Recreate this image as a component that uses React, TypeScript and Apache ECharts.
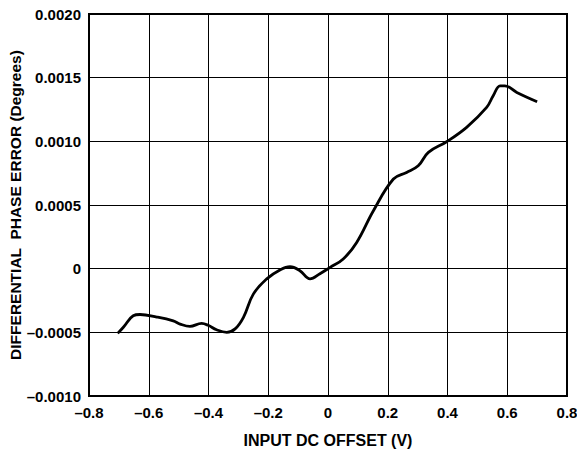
import React, { useEffect, useRef } from "react";
import * as echarts from "echarts";

const xValues = [
  -0.704, -0.685, -0.652, -0.629, -0.573, -0.518, -0.495, -0.462, -0.423, -0.401,
  -0.373, -0.339, -0.311, -0.283, -0.25, -0.205, -0.161, -0.127, -0.094, -0.06,
  -0.027, 0.007, 0.051, 0.096, 0.152, 0.219, 0.263, 0.302, 0.336, 0.397,
  0.464, 0.531, 0.553, 0.576, 0.592, 0.632, 0.7,
];
const yValues = [
  -0.000508, -0.00046, -0.00037, -0.00036, -0.00038, -0.00041, -0.000435, -0.000453, -0.00043, -0.000445,
  -0.00048, -0.0005, -0.000473, -0.000382, -0.0002, -0.00008, -0.00001, 0.000016, -0.000016, -0.00008,
  -0.00004, 0.00001, 0.000076, 0.000206, 0.000455, 0.000704, 0.000756, 0.000808, 0.000913, 0.000997,
  0.00111, 0.001266, 0.001358, 0.001436, 0.001436, 0.001384, 0.001311,
];
const xTickLabels: Record<string, string> = {
  "-0.8": "–0.8", "-0.6": "–0.6", "-0.4": "–0.4", "-0.2": "–0.2",
  "0": "0", "0.2": "0.2", "0.4": "0.4", "0.6": "0.6", "0.8": "0.8",
};
const yTickLabels: Record<string, string> = {
  "-0.001": "–0.0010", "-0.0005": "–0.0005", "0": "0",
  "0.0005": "0.0005", "0.001": "0.0010", "0.0015": "0.0015", "0.002": "0.0020",
};

export default function App() {
  const ref = useRef<HTMLDivElement>(null);
  useEffect(() => {
    if (!ref.current) return;
    const chart = echarts.init(ref.current, null, { renderer: "svg" });
    const font = "Liberation Sans, Arial, sans-serif";
    chart.setOption({
      animation: false,
      backgroundColor: "#ffffff",
      grid: { left: 89, right: 10, top: 14, bottom: 58, containLabel: false, outerBoundsMode: "none" },
      xAxis: {
        type: "value",
        min: -0.8,
        max: 0.8,
        interval: 0.2,
        name: "INPUT DC OFFSET (V)",
        nameLocation: "middle",
        nameGap: 36,
        nameMoveOverlap: false,
        nameTextStyle: { color: "#000", fontFamily: font, fontWeight: "bold", fontSize: 16 },
        axisLine: { show: true, onZero: false, lineStyle: { color: "#000", width: 2 } },
        axisTick: { show: false },
        axisLabel: {
          color: "#000",
          fontFamily: font,
          fontWeight: "bold",
          fontSize: 15,
          margin: 9,
          formatter: (v: number) => xTickLabels[String(Math.round(v * 10) / 10)] ?? String(v),
        },
        splitLine: { show: true, lineStyle: { color: "#000", width: 1 } },
      },
      yAxis: {
        type: "value",
        min: -0.001,
        max: 0.002,
        interval: 0.0005,
        name: "DIFFERENTIAL  PHASE ERROR (Degrees)",
        nameLocation: "middle",
        nameGap: 66,
        nameMoveOverlap: false,
        nameTextStyle: { color: "#000", fontFamily: font, fontWeight: "bold", fontSize: 15.5 },
        axisLine: { show: true, onZero: false, lineStyle: { color: "#000", width: 2 } },
        axisTick: { show: false },
        axisLabel: {
          color: "#000",
          fontFamily: font,
          fontWeight: "bold",
          fontSize: 15,
          margin: 8,
          formatter: (v: number) => yTickLabels[String(Math.round(v * 10000) / 10000)] ?? String(v),
        },
        splitLine: { show: true, lineStyle: { color: "#000", width: 1 } },
      },
      graphic: [
        {
          type: "rect",
          shape: { x: 89, y: 14, width: 478, height: 382 },
          style: { fill: "none", stroke: "#000", lineWidth: 2 },
          silent: true,
          z: 10,
        },
      ],
      series: [
        {
          type: "line",
          data: xValues.map((x, i) => [x, yValues[i]]),
          smooth: 0.4,
          showSymbol: false,
          lineStyle: { color: "#000", width: 2.8 },
          z: 5,
        },
      ],
    });
    return () => chart.dispose();
  }, []);
  return <div ref={ref} style={{ width: 577, height: 454, position: "absolute", left: 0, top: 0 }} />;
}
